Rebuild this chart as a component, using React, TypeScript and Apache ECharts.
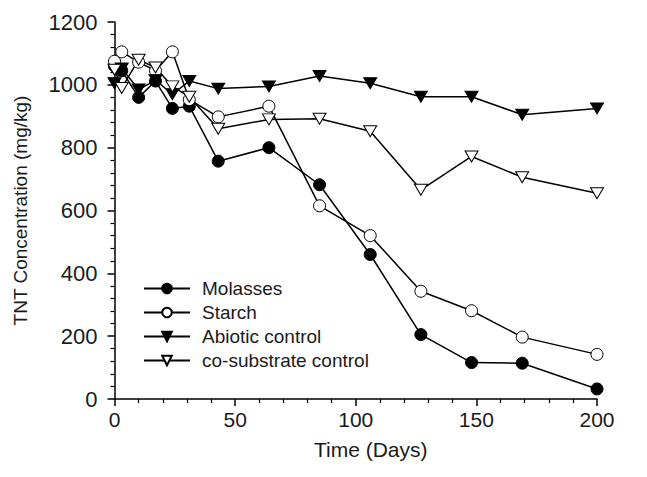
import React, { useEffect, useRef } from "react";
import * as echarts from "echarts";

const days = [0, 3, 10, 17, 24, 31, 43, 64, 85, 106, 127, 148, 169, 200];
const molasses = [1060, 1045, 960, 1012, 925, 932, 757, 800, 682, 460, 205, 116, 114, 32];
const starch = [1075, 1105, 1072, 1045, 1105, 953, 898, 932, 615, 520, 343, 281, 197, 142];
const abiotic = [1005, 1052, 985, 1015, 970, 1012, 988, 995, 1028, 1005, 962, 962, 905, 925];
const cosub = [1048, 990, 1080, 1055, 995, 962, 860, 890, 892, 852, 666, 772, 706, 655];

const xTicks = [0, 50, 100, 150, 200];
const yTicks = [0, 200, 400, 600, 800, 1000, 1200];

const FONT = "Liberation Sans, Arial, sans-serif";
const TXT = "#1a1a1a";

function pairs(vals: number[]) {
  return days.map((d, i) => [d, vals[i]]);
}

export default function App() {
  const ref = useRef<HTMLDivElement>(null);
  useEffect(() => {
    if (!ref.current) return;
    const chart = echarts.init(ref.current, undefined, { renderer: "svg" });
    const base = {
      type: "line",
      color: "#000",
      lineStyle: { color: "#000", width: 1.5 },
      emphasis: { disabled: true },
    };
    chart.setOption({
      animation: false,
      backgroundColor: "#fff",
      textStyle: { fontFamily: FONT },
      grid: { left: 114.5, right: 50, top: 22, bottom: 78, containLabel: false },
      legend: {
        orient: "vertical",
        left: 138,
        top: 274,
        itemWidth: 46,
        itemHeight: 12,
        itemGap: 5,
        selectedMode: false,
        textStyle: { fontFamily: FONT, fontSize: 19, color: TXT, lineHeight: 19, padding: [0, 0, 0, 7] },
        data: ["Molasses", "Starch", "Abiotic control", "co-substrate control"],
      },
      xAxis: {
        type: "value",
        min: 0,
        max: 200,
        interval: 50,
        name: "Time (Days)",
        nameLocation: "middle",
        nameGap: 40,
        nameTextStyle: { fontFamily: FONT, fontSize: 21, color: TXT, padding: [0, 0, 0, 30] },
        axisLine: { show: true, lineStyle: { color: "#000", width: 1.5 } },
        axisTick: { show: true, inside: false, length: 7, lineStyle: { color: "#000", width: 1.5 } },
        minorTick: { show: true, splitNumber: 5, length: 4, lineStyle: { color: "#000", width: 1.2 } },
        splitLine: { show: false },
        axisLabel: {
          fontFamily: FONT,
          fontSize: 21,
          color: TXT,
          margin: 10,
          formatter: (v: number) => (xTicks.includes(v) ? String(v) : ""),
        },
      },
      yAxis: {
        type: "value",
        min: 0,
        max: 1200,
        interval: 200,
        name: "TNT Concentration (mg/kg)",
        nameLocation: "middle",
        nameGap: 85,
        nameTextStyle: { fontFamily: FONT, fontSize: 19, color: TXT },
        axisLine: { show: true, lineStyle: { color: "#000", width: 1.5 } },
        axisTick: { show: true, inside: false, length: 7, lineStyle: { color: "#000", width: 1.5 } },
        minorTick: { show: true, splitNumber: 5, length: 4, lineStyle: { color: "#000", width: 1.2 } },
        splitLine: { show: false },
        axisLabel: {
          fontFamily: FONT,
          fontSize: 22,
          color: TXT,
          margin: 17,
          formatter: (v: number) => (yTicks.includes(v) ? String(v) : ""),
        },
      },
      series: [
        {
          ...base,
          name: "Molasses",
          data: pairs(molasses),
          symbol: "circle",
          symbolSize: 12,
          itemStyle: { color: "#000", borderColor: "#000", borderWidth: 1 },
        },
        {
          ...base,
          name: "Starch",
          data: pairs(starch),
          symbol: "circle",
          symbolSize: 12,
          itemStyle: { color: "#fff", borderColor: "#000", borderWidth: 1 },
        },
        {
          ...base,
          name: "Abiotic control",
          data: pairs(abiotic),
          symbol: "triangle",
          symbolRotate: 180,
          symbolSize: [13, 11],
          itemStyle: { color: "#000", borderColor: "#000", borderWidth: 1 },
        },
        {
          ...base,
          name: "co-substrate control",
          data: pairs(cosub),
          symbol: "triangle",
          symbolRotate: 180,
          symbolSize: [13, 11],
          itemStyle: { color: "#fff", borderColor: "#000", borderWidth: 1 },
        },
      ],
    });
    return () => chart.dispose();
  }, []);
  return <div ref={ref} style={{ width: 647, height: 477, margin: -8 }} />;
}
